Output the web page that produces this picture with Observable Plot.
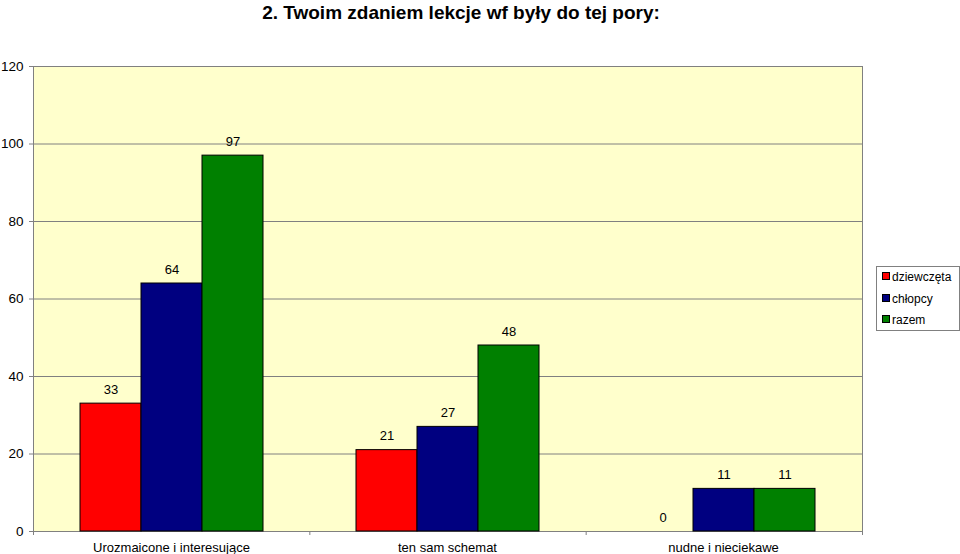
<!DOCTYPE html>
<html>
<head>
<meta charset="utf-8">
<script src="https://cdn.jsdelivr.net/npm/d3@7"></script>
<script src="https://cdn.jsdelivr.net/npm/@observablehq/plot@0.6"></script>
<style>
  body { margin: 0; background: #fff; font-family: "Liberation Sans", Arial, sans-serif; }
  #wrap { position: relative; width: 960px; height: 554px; overflow: hidden; }
  #title { position: absolute; top: 1px; left: 0; width: 922px; text-align: center; font-weight: bold; font-size: 19px; line-height: 24px; color: #000; }
  .layer { position: absolute; top: 36px; left: 0; }
  #legend { position: absolute; left: 876px; top: 266px; width: 82px; height: 63px; border: 1px solid #808080; background: #fff; font-size: 12px; }
  .item { position: absolute; left: 5px; height: 14px; line-height: 14px; white-space: nowrap; }
  .sw { display: inline-block; width: 6px; height: 6px; border: 1px solid #000; margin-right: 2px; vertical-align: 1px; }
</style>
</head>
<body>
<div id="wrap">
  <div id="title">2. Twoim zdaniem lekcje wf były do tej pory:</div>
  <div id="bg" class="layer"></div>
  <div id="fg" class="layer"></div>
  <div id="legend"></div>
</div>
<script>
const categories = ["Urozmaicone i interesujące", "ten sam schemat", "nudne i nieciekawe"];
const series = ["dziewczęta", "chłopcy", "razem"];
const dziewczeta = [33, 21, 0];
const chlopcy = [64, 27, 11];
const razem = [97, 48, 11];
const yTicks = [0, 20, 40, 60, 80, 100, 120];
const gridTicks = [20, 40, 60, 80, 100];
const categoryBoundaries = [0, 1, 2, 3];
const colors = ["#FF0000", "#000080", "#008000"];

const valuesBySeries = [dziewczeta, chlopcy, razem];
const data = [];
categories.forEach((c, i) => {
  series.forEach((s, j) => {
    data.push({ category: c, series: s, value: valuesBySeries[j][i] });
  });
});

const common = {
  width: 960,
  height: 518,
  marginLeft: 33,
  marginRight: 98,
  marginTop: 30,
  marginBottom: 23,
  style: { background: "transparent", fontFamily: "'Liberation Sans', Arial, sans-serif", fontSize: "13px", color: "#000" }
};

// background layer: plot area, gridlines, y axis, category separator ticks
const bg = Plot.plot({
  ...common,
  x: { domain: [0, categories.length] },
  y: { domain: [0, 120] },
  marks: [
    Plot.frame({ fill: "#FFFFCC", stroke: "#808080" }),
    Plot.ruleY(gridTicks, { stroke: "#808080", strokeWidth: 1 }),
    Plot.axisY({ ticks: yTicks, tickSize: 4, tickPadding: 6, label: null, stroke: "#808080", fill: "#000", fontSize: 13.5 }),
    Plot.axisX({ ticks: categoryBoundaries, tickSize: 4, tickFormat: () => "", label: null, stroke: "#808080" })
  ]
});
document.getElementById("bg").appendChild(bg);

// foreground layer: grouped bars and value labels
const fg = Plot.plot({
  ...common,
  y: { domain: [0, 120], axis: null },
  fx: { domain: categories, paddingInner: 0.333, paddingOuter: 0.1667, label: null, axis: "bottom", tickSize: 0, tickPadding: 11 },
  x: { domain: series, padding: 0, axis: null },
  color: { domain: series, range: colors },
  marks: [
    Plot.barY(data, { fx: "category", x: "series", y: "value", fill: "series", stroke: "#000", strokeWidth: 1, inset: 0 }),
    Plot.text(data, { fx: "category", x: "series", y: "value", text: d => String(d.value), lineAnchor: "bottom", dy: -10, fill: "#000", fontSize: 13 })
  ]
});
document.getElementById("fg").appendChild(fg);

const legend = document.getElementById("legend");
series.forEach((s, j) => {
  const it = document.createElement("div");
  it.className = "item";
  it.style.top = (3 + j * 21.5) + "px";
  it.innerHTML = `<span class="sw" style="background:${colors[j]}"></span>${s}`;
  legend.appendChild(it);
});
</script>
</body>
</html>
